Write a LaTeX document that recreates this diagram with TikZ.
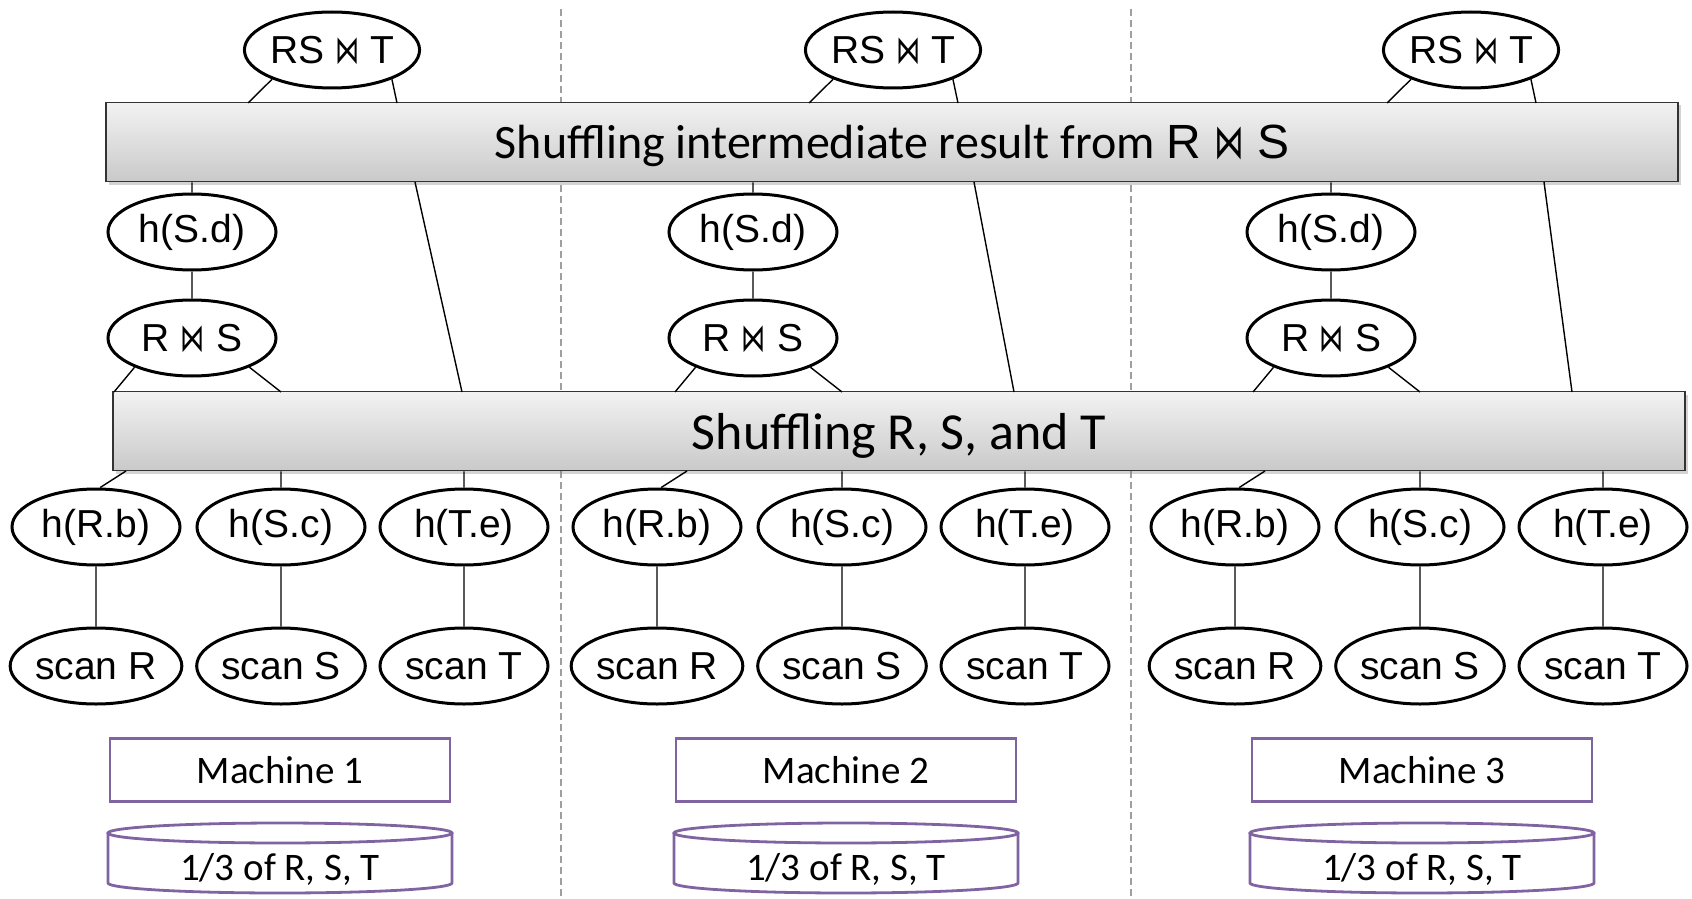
\documentclass[tikz,border=0pt]{standalone}
\usepackage{fontspec}
\usepackage{graphicx}
\setmainfont{Carlito}
\newfontfamily\opfont{Liberation Sans}
\newfontfamily\symfont{DejaVu Sans}
\newcommand{\bowjoin}{\scalebox{0.62}[1]{\symfont ⋈}}
\usetikzlibrary{shapes.geometric,shadows}
\definecolor{lilac}{RGB}{128,100,162}

\begin{document}
\begin{tikzpicture}[x=0.5pt,y=-0.5pt]
				\tikzstyle{op}=[draw, ellipse, line width=1.5pt, minimum width=84pt, minimum height=38pt, inner sep=0pt, font=\opfont\fontsize{19.5}{22}\selectfont]
				\tikzstyle{shuffle}=[draw=black!80, line width=0.9pt, top color=gray!10, bottom color=gray!42, minimum width=786pt, minimum height=39.5pt, inner sep=0pt, text depth=0pt, drop shadow={shadow xshift=1.5pt, shadow yshift=-1.5pt, opacity=0.35}]
				\tikzstyle{machine}=[draw=lilac, line width=1.4pt, minimum width=170pt, minimum height=31.5pt, inner sep=0pt, font=\fontsize{19.5}{22}\selectfont]
				\tikzstyle{disklabel}=[inner sep=0pt, font=\fontsize{19.5}{22}\selectfont]
				\tikzstyle{diskline}=[draw=lilac, line width=1.4pt]
				\tikzstyle{wire}=[line width=0.7pt]
				\useasboundingbox (0,0) rectangle (1692,899);
				% machine borders
				\draw[gray!75, line width=1.4pt, dash pattern=on 3.5pt off 2pt] (561,9) -- (561,899) (1131,9) -- (1131,899);
				\draw (892,142) node[shuffle] (bar1) {\fontsize{24}{28}\selectfont Shuffling intermediate result from {\opfont R \bowjoin{} S}};
				\draw (899,431) node[shuffle] (bar2) {\fontsize{26}{30}\selectfont Shuffling R, S, and T};
				\foreach \i/\o/\m/\ua/\ub in {1/0/280/415/462, 2/561/846/974/1014, 3/1139/1422/1544/1572} {
					\draw (332+\o,50) node[op] (rst\i) {RS \bowjoin{} T};
					\draw (192+\o,232) node[op] (hsd\i) {h(S.d)};
					\draw (192+\o,338) node[op] (rjs\i) {R \bowjoin{} S};
					\draw (96+\o,527) node[op] (hrb\i) {h(R.b)};
					\draw (281+\o,527) node[op] (hsc\i) {h(S.c)};
					\draw (464+\o,527) node[op] (hte\i) {h(T.e)};
					\draw (96+\o,666) node[op] (scr\i) {scan R};
					\draw (281+\o,666) node[op] (scs\i) {scan S};
					\draw (464+\o,666) node[op] (sct\i) {scan T};
					\draw (\m,770) node[machine] (mach\i) {Machine \i};
					\draw (\m,869) node[disklabel] (disk\i) {1/3 of R, S, T};
					\draw[diskline] (\m,833) ellipse[x radius=86pt, y radius=5pt];
					\draw[diskline] (\m-172,833) -- (\m-172,883) arc[start angle=180, end angle=360, x radius=86pt, y radius=5pt] -- (\m+172,833);
					% ends of the wires on the shuffle bars
					\coordinate (rl\i) at (248+\o,103);
					\coordinate (rr\i) at (397+\o,103);
					\coordinate (tu\i) at (\ua,182);
					\coordinate (td\i) at (\ub,392);
					\coordinate (jl\i) at (114+\o,392);
					\coordinate (jr\i) at (281+\o,392);
					\coordinate (bl\i) at (126+\o,471);
					\draw[wire] (rst\i.206) -- (rl\i) (rst\i.334) -- (rr\i)
						(hsd\i) -- (hsd\i |- bar1.south) (hsd\i) -- (rjs\i)
						(tu\i) -- (td\i)
						(rjs\i.207) -- (jl\i) (rjs\i.333) -- (jr\i)
						(hrb\i.84) -- (bl\i)
						(hsc\i) -- (hsc\i |- bar2.south) (hte\i) -- (hte\i |- bar2.south)
						(hrb\i) -- (scr\i) (hsc\i) -- (scs\i) (hte\i) -- (sct\i);
				}
			\end{tikzpicture}
\end{document}
